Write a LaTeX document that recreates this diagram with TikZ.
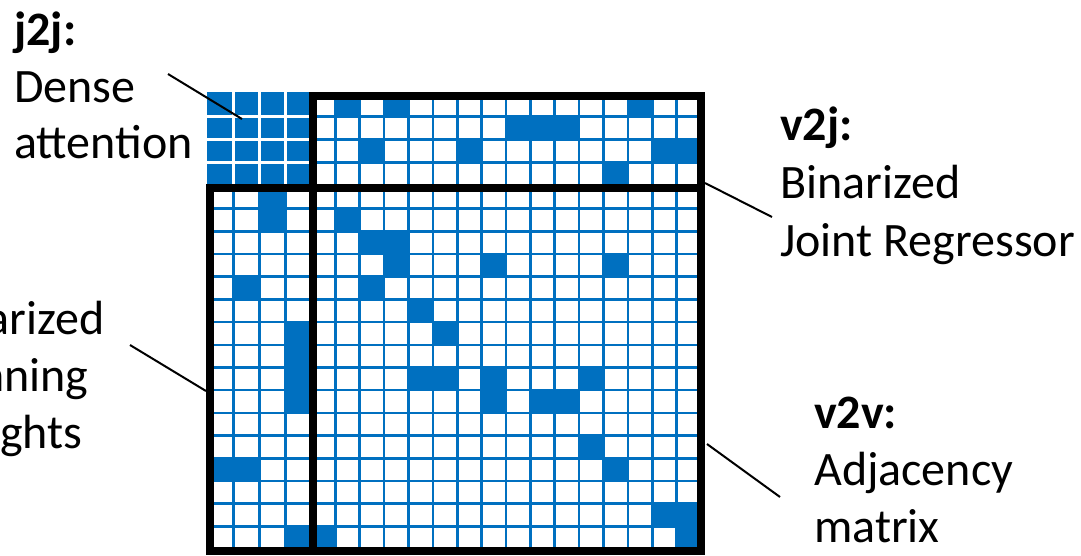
\documentclass[tikz,border=0pt]{standalone}
\usepackage{fontspec}
\setmainfont{Carlito}
\definecolor{mblue}{HTML}{0070C0}
\tikzset{
  lbl/.style={anchor=base west, inner sep=0pt, font=\fontsize{48}{57}\selectfont},
  lblb/.style={anchor=base west, inner sep=0pt, font=\fontsize{48}{57}\selectfont\bfseries},
  leader/.style={draw=black, line width=2pt},
  gridl/.style={draw=mblue, line width=2.6pt},
  wgrid/.style={draw=white, line width=2.6pt},
  border/.style={draw=black, line width=8pt},
}
% cell fills: joint-column block, top block, vertex block
\newcommand\fillJ[2]{\fill[mblue] ({208+25.75*(#1-1)},{186+22.6875*(#2-1)}) rectangle ({208+25.75*#1},{186+22.6875*#2});}
\newcommand\fillT[2]{\fill[mblue] ({311+24.375*(#1-1)},{93+23.25*(#2-1)}) rectangle ({311+24.375*#1},{93+23.25*#2});}
\newcommand\fillV[2]{\fill[mblue] ({311+24.375*(#1-1)},{186+22.6875*(#2-1)}) rectangle ({311+24.375*#1},{186+22.6875*#2});}
\begin{document}
\begin{tikzpicture}[x=1pt,y=-1pt]
\useasboundingbox (0,0) rectangle (1081,555);
\clip (0,0) rectangle (1081,555);

% top block (v2j)
\foreach \v/\r in {2/1,4/1,14/1, 9/2,10/2,11/2, 3/3,7/3,15/3,16/3, 13/4} {\fillT{\v}{\r}}
% left block (j2v)
\foreach \j/\r in {3/1,3/2,2/5,4/7,4/8,4/9,4/10,1/13,2/13,4/16} {\fillJ{\j}{\r}}
% vertex block (v2v)
\foreach \v/\r in {2/2, 3/3,4/3, 4/4,8/4,13/4, 3/5, 5/6, 6/7, 5/9,6/9,8/9,12/9, 8/10,10/10,11/10, 12/12, 13/13, 15/15,16/15, 1/16,16/16} {\fillV{\v}{\r}}

% grid lines
\foreach \k in {0,...,4} {\draw[gridl] ({208+25.75*\k},93) -- ({208+25.75*\k},549);}
\foreach \k in {1,...,16} {\draw[gridl] ({311+24.375*\k},93) -- ({311+24.375*\k},549);}
\foreach \k in {0,...,4} {\draw[gridl] (208,{93+23.25*\k}) -- (701,{93+23.25*\k});}
\foreach \k in {1,...,16} {\draw[gridl] (208,{186+22.6875*\k}) -- (701,{186+22.6875*\k});}

% j2j dense block
\fill[mblue] (206.7,92) rectangle (311,187);
\foreach \k in {1,2,3} {\draw[wgrid] ({208+25.75*\k},92) -- ({208+25.75*\k},186);}
\foreach \k in {1,2,3} {\draw[wgrid] (206.7,{93+23.25*\k}) -- (311,{93+23.25*\k});}

% thick borders
\draw[border] (313,95.5) rectangle (701,187.5);
\draw[border] (209.5,187.5) rectangle (313,551);
\draw[border] (313,187.5) rectangle (701,551);

% labels
\node[lblb] (j2jh) at (14,45) {j2j:};
\node[lbl] (j2ja) at (14,102) {Dense};
\node[lbl] (j2jb) at (14,158) {attention};

\node[lblb] (v2jh) at (780,140) {v2j:};
\node[lbl] (v2ja) at (780,198) {Binarized};
\node[lbl] (v2jb) at (780,256) {Joint Regressor};

\node[lblb] (v2vh) at (814,428) {v2v:};
\node[lbl] (v2va) at (814,485) {Adjacency};
\node[lbl] (v2vb) at (814,542) {matrix};

\node[lblb] (j2vh) at (-74,277) {j2v:};
\node[lbl] (j2va) at (-76,334) {Binarized};
\node[lbl] (j2vb) at (-76,391) {Skinning};
\node[lbl] (j2vc) at (-76,448) {Weights};

% leader lines
\coordinate (p1) at (168,74);  \coordinate (q1) at (242,119);
\coordinate (p2) at (772,217); \coordinate (q2) at (705,183);
\coordinate (p3) at (780,497); \coordinate (q3) at (707,444);
\coordinate (p4) at (130,345); \coordinate (q4) at (206,391);
\draw[leader] (p1) -- (q1);
\draw[leader] (p2) -- (q2);
\draw[leader] (p3) -- (q3);
\draw[leader] (p4) -- (q4);
\end{tikzpicture}
\end{document}
